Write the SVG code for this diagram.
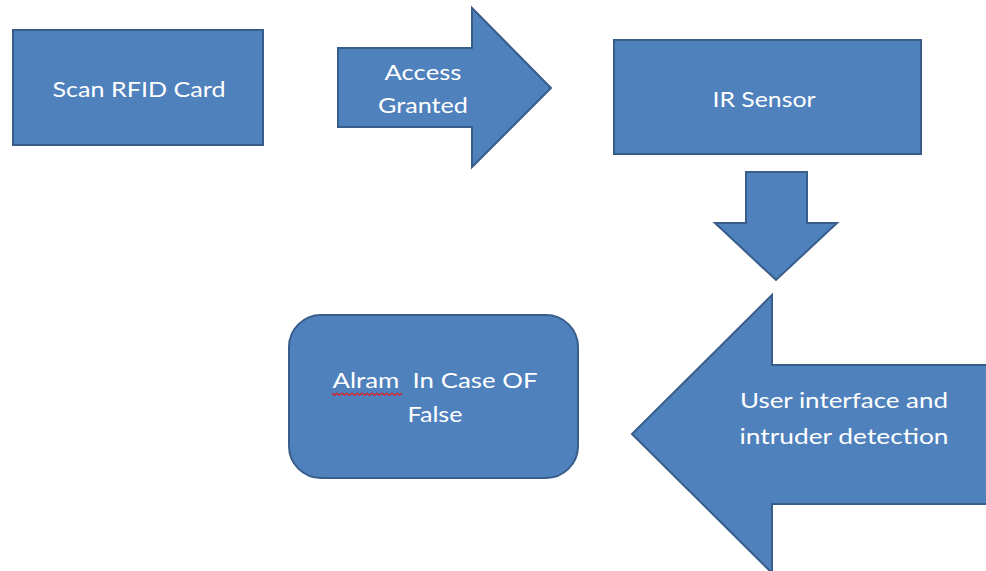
<svg xmlns="http://www.w3.org/2000/svg" width="986" height="571" viewBox="0 0 986 571">
<style>
.shape{fill:#4F81BD;stroke:#385D8A;stroke-width:2;stroke-linejoin:miter}
.lbl{fill:#FFFFFF;font-family:Lato,"Open Sans","Liberation Sans",sans-serif;font-size:22px;text-anchor:middle;white-space:pre}
.squig{fill:none;stroke:#E02020;stroke-width:1.2}
</style>
<rect width="986" height="571" fill="#FFFFFF"/>
<g id="scan-rfid">
<rect class="shape" x="13" y="30" width="250" height="115"/>
<text class="lbl" x="139" y="97" textLength="173" lengthAdjust="spacingAndGlyphs">Scan RFID Card</text>
</g>
<g id="connectors">
<g id="access-granted">
<polygon class="shape" points="338,48 472,48 472,8 551,88 472,167 472,127 338,127"/>
<text class="lbl" x="423" y="80" textLength="77" lengthAdjust="spacingAndGlyphs">Access</text>
<text class="lbl" x="423" y="113" textLength="90" lengthAdjust="spacingAndGlyphs">Granted</text>
</g>
<g id="down-arrow">
<polygon class="shape" points="746,172 807,172 807,223 837,223 776,280 715,223 746,223"/>
</g>
<g id="user-interface">
<polygon class="shape" points="988,365 772,365 772,295 632,434 772,573 772,504 988,504"/>
<text class="lbl" x="844" y="408" textLength="208" lengthAdjust="spacingAndGlyphs">User interface and</text>
<text class="lbl" x="844" y="444" textLength="209" lengthAdjust="spacingAndGlyphs">intruder detection</text>
</g>
</g>
<g id="ir-sensor">
<rect class="shape" x="614" y="40" width="307" height="114"/>
<text class="lbl" x="764" y="107" textLength="103" lengthAdjust="spacingAndGlyphs">IR Sensor</text>
</g>
<g id="alarm">
<rect class="shape" x="289" y="315" width="289" height="163" rx="32" ry="32"/>
<text class="lbl" xml:space="preserve" x="435" y="388" textLength="205" lengthAdjust="spacingAndGlyphs">Alram  In Case OF</text>
<text class="lbl" x="435" y="422" textLength="55" lengthAdjust="spacingAndGlyphs">False</text>
<path class="squig" d="M332,393 l2.5,2.5 l2.5,-2.5 l2.5,2.5 l2.5,-2.5 l2.5,2.5 l2.5,-2.5 l2.5,2.5 l2.5,-2.5 l2.5,2.5 l2.5,-2.5 l2.5,2.5 l2.5,-2.5 l2.5,2.5 l2.5,-2.5 l2.5,2.5 l2.5,-2.5 l2.5,2.5 l2.5,-2.5 l2.5,2.5 l2.5,-2.5 l2.5,2.5 l2.5,-2.5 l2.5,2.5 l2.5,-2.5 l2.5,2.5 l2.5,-2.5 l2.5,2.5 l2.5,-2.5"/>
</g>
</svg>
